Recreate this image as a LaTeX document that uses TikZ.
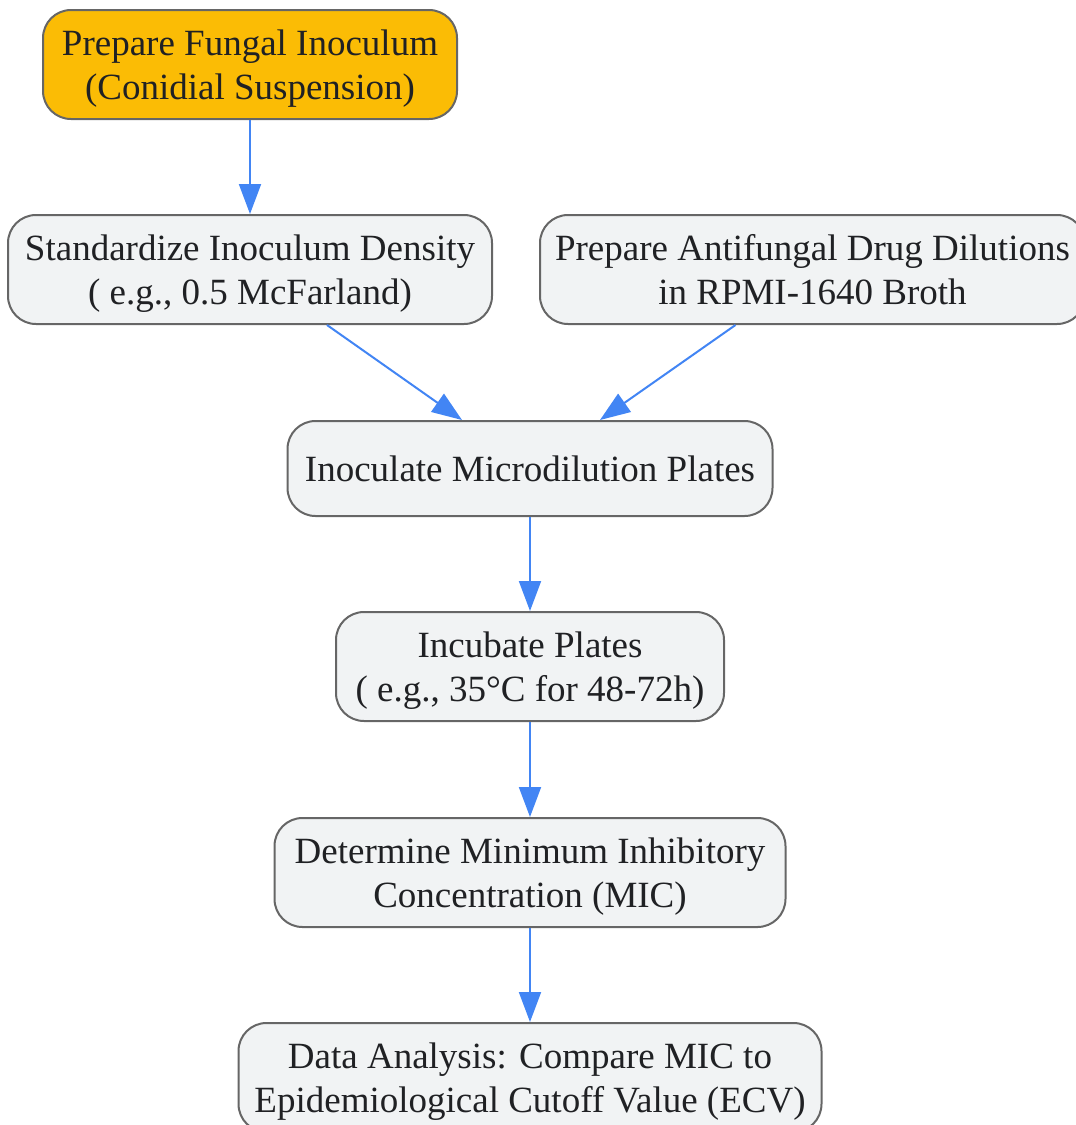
\documentclass[tikz,border=0pt]{standalone}
\usepackage{fontspec}
\setmainfont{Liberation Serif}
\usepackage{xcolor}
\usetikzlibrary{positioning,arrows.meta}
\definecolor{boxgray}{HTML}{F1F3F4}
\definecolor{boxorange}{HTML}{FBBC05}
\definecolor{edgegray}{HTML}{666666}
\definecolor{arrowblue}{HTML}{4285F4}
\definecolor{textdark}{HTML}{202124}
\tikzset{
  stepbox/.style={draw=edgegray,line width=2pt,fill=boxgray,rounded corners=28pt,
    align=center,minimum height=109pt,inner xsep=12pt,inner ysep=10pt,text depth=0pt,
    text=textdark,font=\fontsize{37}{44}\selectfont},
  flow/.style={draw=arrowblue,line width=2pt,-{Triangle[length=30pt,width=22pt,fill=arrowblue]}}
}

\begin{document}
\begin{tikzpicture}[x=1pt,y=-1pt]
\useasboundingbox (0,0) rectangle (1076,1125);
\node[stepbox,fill=boxorange,minimum width=414pt] (1) at (250,64.5) {Prepare Fungal Inoculum\\(Conidial Suspension)};
\node[stepbox,minimum width=484pt] (2) at (250,269.5) {Standardize Inoculum Density\\( e.g., 0.5 McFarland)};
\node[stepbox,minimum width=545pt] (3) at (812.5,269.5) {Prepare Antifungal Drug Dilutions\\in RPMI-1640 Broth};
\node[stepbox,minimum width=485pt,minimum height=95pt] (4) at (530,468.5) {Inoculate Microdilution Plates};
\node[stepbox,minimum width=388pt] (5) at (530,666.5) {Incubate Plates\\( e.g., 35°C for 48-72h)};
\node[stepbox,minimum width=511pt] (6) at (530,872.5) {Determine Minimum Inhibitory\\Concentration (MIC)};
\node[stepbox,minimum width=583pt] (7) at (530,1077.5) {Data Analysis: Compare MIC to\\Epidemiological Cutoff Value (ECV)};
%
\draw[flow] (1) -- (2);
\draw[flow] ([xshift=77pt]2.south) -- ([xshift=-68pt]4.north);
\draw[flow] ([xshift=-77pt]3.south) -- ([xshift=70pt]4.north);
\draw[flow] (4) -- (5);
\draw[flow] (5) -- (6);
\draw[flow] (6) -- (7);
\end{tikzpicture}
\end{document}
